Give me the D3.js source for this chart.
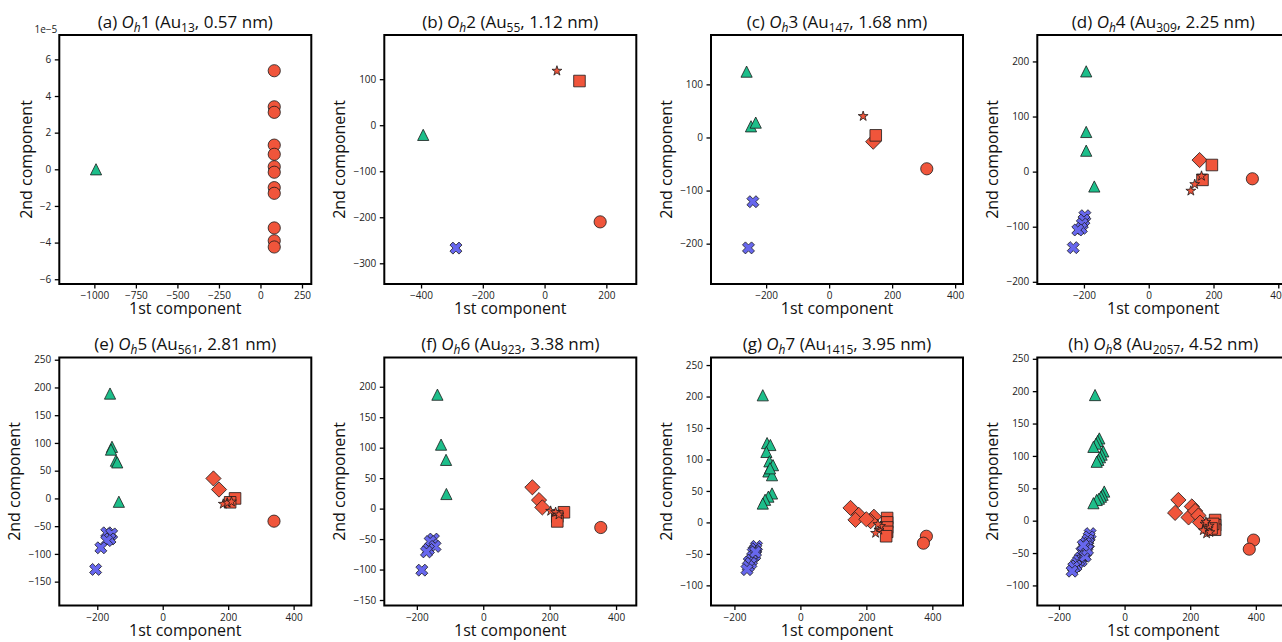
<!DOCTYPE html>
<html><head><meta charset="utf-8">
<script src="https://cdn.jsdelivr.net/npm/d3@7"></script>
<style>
body{margin:0;background:#fff;}
svg{display:block;font-family:"Open Sans",sans-serif;}
</style>
</head><body>
<svg id="chart" width="1282" height="642"></svg>
<script>
// ---------- data ----------
const panelLetters = ["a","b","c","d","e","f","g","h"];
const panelNumbers = ["1","2","3","4","5","6","7","8"];
const atomCounts = ["13","55","147","309","561","923","1415","2057"];
const diameters = ["0.57","1.12","1.68","2.25","2.81","3.38","3.95","4.52"];

const xLimits = [[-1211,306],[-519,297],[-375,425],[-344,434],[-316,454],[-298,461],[-271,493],[-266,502]];
const yLimits = [[-6.26,7.33],[-345,196],[-276,193],[-204,248],[-193,254],[-159,248],[-132,262],[-131,252]];

const xTicks = [
  [-1000,-750,-500,-250,0,250],
  [-400,-200,0,200],
  [-200,0,200,400],
  [-200,0,200,400],
  [-200,0,200,400],
  [-200,0,200,400],
  [-200,0,200,400],
  [-200,0,200,400]
];
const yTicks = [
  [-6,-4,-2,0,2,4,6],
  [-300,-200,-100,0,100],
  [-200,-100,0,100],
  [-200,-100,0,100,200],
  [-150,-100,-50,0,50,100,150,200,250],
  [-150,-100,-50,0,50,100,150,200],
  [-100,-50,0,50,100,150,200,250],
  [-100,-50,0,50,100,150,200,250]
];
const yOffsetText = ["1e\u22125","","","","","","",""];

// points per panel (panel (a) y values in units of 1e-5)
const trianglePts = [
  [[-990,0]],
  [[-393,-21]],
  [[-262,124],[-248,21],[-233,28]],
  [[-193,182],[-193,72],[-193,38],[-168,-27]],
  [[-161,189],[-155,93],[-158,88],[-143,68],[-139,65],[-134,-6]],
  [[-138,187],[-127,105],[-112,80],[-111,24]],
  [[-114,202],[-101,126],[-91,123],[-103,112],[-94,97],[-83,91],[-97,81],[-86,75],[-92,86],
   [-86,46],[-97,41],[-107,36],[-114,30]],
  [[-90,194],[-77,127],[-82,123],[-87,119],[-95,114],[-65,107],[-70,102],[-75,98],[-80,94],[-85,91],
   [-62,45],[-67,40],[-72,37],[-78,34],[-85,32],[-95,27]]
];
const crossPts = [
  [],
  [[-287,-267]],
  [[-242,-121],[-256,-208]],
  [[-197,-80],[-200,-88],[-205,-95],[-208,-103],[-219,-106],[-233,-138]],
  [[-171,-62],[-156,-64],[-161,-73],[-171,-76],[-189,-89],[-205,-128]],
  [[-150,-50],[-160,-54],[-145,-62],[-165,-67],[-171,-71],[-185,-101]],
  [[-133,-38],[-135,-42],[-140,-45],[-143,-48],[-138,-52],[-145,-55],[-148,-60],[-155,-63],
   [-150,-65],[-158,-70],[-162,-75],[-136,-47]],
  [[-105,-20],[-108,-25],[-112,-30],[-110,-35],[-118,-35],[-115,-40],[-122,-42],[-118,-48],
   [-125,-50],[-130,-48],[-128,-55],[-135,-58],[-132,-62],[-140,-62],[-145,-66],[-148,-70],
   [-155,-72],[-160,-78],[-120,-55],[-113,-45],[-126,-38]]
];
const diamondPts = [
  [],
  [],
  [[140,-8]],
  [[157,21]],
  [[155,36],[172,16]],
  [[148,35],[168,14],[178,2]],
  [[152,23],[177,12],[167,4],[223,9],[213,2],[200,5]],
  [[164,32],[154,12],[205,22],[195,5],[215,15],[225,8],[230,-3]]
];
const squarePts = [
  [],
  [[113,96]],
  [[148,4]],
  [[195,12],[166,-15]],
  [[221,0],[206,-7]],
  [[243,-6],[223,-13],[223,-21]],
  [[263,7],[263,0],[263,-8],[263,-15],[260,-22]],
  [[276,1],[276,-7],[276,-14],[270,-5],[265,-12]]
];
const starPts = [
  [],
  [[40,118]],
  [[108,40]],
  [[163,-8],[142,-23],[130,-35]],
  [[185,-10],[197,-8],[210,-6]],
  [[203,-4],[218,-6],[228,-10]],
  [[238,-12],[228,-17],[243,-6],[235,-3]],
  [[245,-5],[255,-12],[250,-20],[240,-15],[260,-18],[258,-8],[248,-2]]
];
const circlePts = [
  [[83,5.38],[83,3.41],[83,3.11],[83,1.32],[83,0.82],[83,0.14],[83,-0.16],[83,-1.0],[83,-1.31],[83,-3.2],[83,-3.9],[83,-4.24]],
  [[180,-210]],
  [[310,-59]],
  [[320,-13]],
  [[340,-41]],
  [[354,-31]],
  [[382,-22],[373,-33]],
  [[393,-30],[380,-44]]
];

// ---------- styles / layout ----------
const RED = "#F0553B", GREEN = "#1DBE8A", BLUE = "#6767EE";
const lefts = [59.3, 384.3, 711, 1037.3];
const tops = [35, 357.5];
const W = 252, H = 249;

function markerPath(shape){
  switch(shape){
    case "circle": return d3.symbol(d3.symbolCircle, Math.PI*6.1*6.1)();
    case "square": { const s=5.8; return `M${-s},${-s}H${s}V${s}H${-s}Z`; }
    case "diamond": { const d=7.6; return `M0,${-d}L${d},0L0,${d}L${-d},0Z`; }
    case "triangle": { const t=5.6; return `M0,${-t}L${t},${t}L${-t},${t}Z`; }
    case "star": {
      const R=5.2, r=R*0.382; let p="";
      for(let i=0;i<10;i++){
        const a = -Math.PI/2 + i*Math.PI/5, rad = i%2===0?R:r;
        p += (i===0?"M":"L") + (rad*Math.cos(a)).toFixed(2) + "," + (rad*Math.sin(a)).toFixed(2);
      }
      return p+"Z";
    }
    case "cross": {
      const L=6.4, a=2.1;
      const pts=[[a,a],[L,a],[L,-a],[a,-a],[a,-L],[-a,-L],[-a,-a],[-L,-a],[-L,a],[-a,a],[-a,L],[a,L]];
      const c=Math.SQRT1_2;
      return "M"+pts.map(([x,y])=>((x-y)*c).toFixed(2)+","+((x+y)*c).toFixed(2)).join("L")+"Z";
    }
  }
}

const layers = [
  {data: trianglePts, shape:"triangle", color: GREEN},
  {data: crossPts, shape:"cross", color: BLUE},
  {data: circlePts, shape:"circle", color: RED},
  {data: diamondPts, shape:"diamond", color: RED},
  {data: squarePts, shape:"square", color: RED},
  {data: starPts, shape:"star", color: RED}
];

const svg = d3.select("#chart");
const fmt = d3.format("d");

panelLetters.forEach((letter, i) => {
  const row = Math.floor(i/4), col = i%4;
  const h = row===0 ? H : H-1;
  const g = svg.append("g").attr("transform", `translate(${lefts[col]},${tops[row]})`);
  const x = d3.scaleLinear().domain(xLimits[i]).range([0, W]);
  const y = d3.scaleLinear().domain(yLimits[i]).range([h, 0]);

  const clipId = "clip"+i;
  g.append("clipPath").attr("id", clipId).append("rect").attr("width", W).attr("height", h);
  const plot = g.append("g").attr("clip-path", `url(#${clipId})`);

  layers.forEach(layer => {
    plot.append("g").selectAll("path").data(layer.data[i]).join("path")
      .attr("d", markerPath(layer.shape))
      .attr("transform", d => `translate(${x(d[0])},${y(d[1])})`)
      .attr("fill", layer.color)
      .attr("stroke", "#1a1a1a")
      .attr("stroke-width", 0.8)
      .attr("stroke-linejoin", "miter");
  });

  const xAxis = g.append("g").attr("transform", `translate(0,${h})`)
    .call(d3.axisBottom(x).tickValues(xTicks[i]).tickFormat(fmt).tickSize(4.5).tickPadding(3.5));
  const yAxis = g.append("g")
    .call(d3.axisLeft(y).tickValues(yTicks[i]).tickFormat(fmt).tickSize(4.5).tickPadding(3.5));
  [xAxis, yAxis].forEach(ax => {
    ax.select(".domain").remove();
    ax.selectAll("line").attr("stroke", "#000").attr("stroke-width", 1.3);
    ax.selectAll("text").attr("font-size", 10).attr("fill", "#222").attr("font-family", '"Open Sans",sans-serif');
  });

  g.append("rect").attr("width", W).attr("height", h)
    .attr("fill", "none").attr("stroke", "#000").attr("stroke-width", 2);

  if (yOffsetText[i]) {
    g.append("text").attr("x", -2).attr("y", -2).attr("text-anchor", "end")
      .attr("font-size", 10).attr("fill", "#222").text(yOffsetText[i]);
  }

  // title
  const t = g.append("text").attr("x", W/2).attr("y", -7.5)
    .attr("text-anchor", "middle").attr("font-size", 17).attr("fill", "#111");
  t.append("tspan").text(`(${letter}) `);
  t.append("tspan").attr("font-style", "italic").text("O");
  t.append("tspan").attr("font-style", "italic").attr("font-size", 12).attr("dy", 4).text("h");
  t.append("tspan").attr("dy", -4).text(`${panelNumbers[i]} (Au`);
  t.append("tspan").attr("font-size", 12).attr("dy", 4).text(atomCounts[i]);
  t.append("tspan").attr("dy", -4).text(`, ${diameters[i]} nm)`);

  // axis labels
  g.append("text").attr("x", W/2).attr("y", h + 30)
    .attr("text-anchor", "middle").attr("font-size", 16).attr("fill", "#111").text("1st component");
  const bb = yAxis.node().getBBox();
  const lx = bb.x - 8;
  g.append("text").attr("transform", `translate(${lx},${h/2}) rotate(-90)`)
    .attr("text-anchor", "middle").attr("font-size", 16).attr("fill", "#111").text("2nd component");
});
</script>
</body></html>
